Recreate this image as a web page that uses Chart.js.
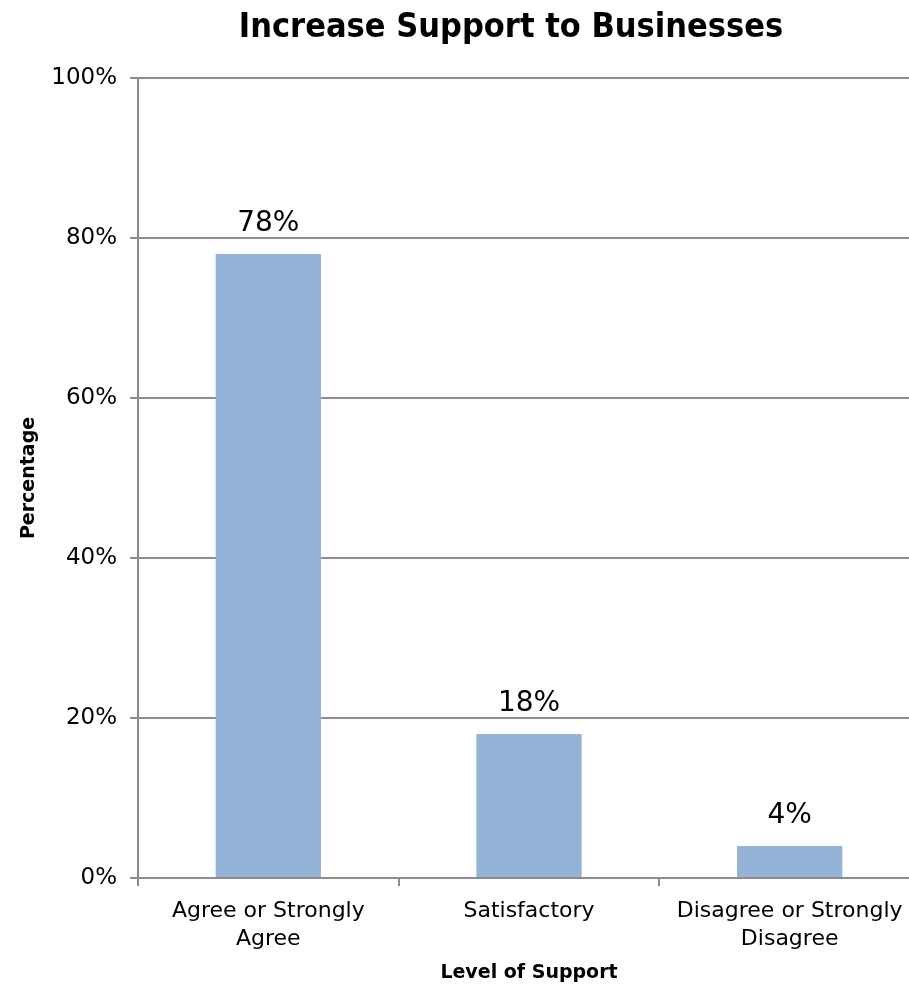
<!DOCTYPE html>
<html>
<head>
<meta charset="utf-8">
<script src="https://cdn.jsdelivr.net/npm/chart.js@4/dist/chart.umd.min.js"></script>
<style>
  html, body { margin: 0; padding: 0; background: #fff; overflow: hidden; }
  #wrap { position: relative; width: 920px; height: 987px; }
</style>
</head>
<body>
<div id="wrap"><canvas id="c"></canvas></div>
<script>
// Survey responses: level of support for increasing support to businesses
const categories = [["Agree or Strongly", "Agree"], "Satisfactory", ["Disagree or Strongly", "Disagree"]];
const percentages = [78, 18, 4];
const yTicks = [0, 20, 40, 60, 80, 100];

const titleText = "Increase Support to Businesses";
const xTitle = "Level of Support";
const yTitle = "Percentage";

const gridColor = "#8c8c8c";
const barColor = "#95b3d7";
const bodyFont = "'DejaVu Sans', sans-serif";

// Chart heading drawn above the plot
const headingPlugin = {
  id: "heading",
  afterDraw(chart) {
    const ctx = chart.ctx;
    ctx.save();
    ctx.fillStyle = "#000";
    ctx.font = "bold 34px 'DejaVu Sans Condensed', 'DejaVu Sans', sans-serif";
    ctx.textAlign = "center";
    ctx.textBaseline = "middle";
    ctx.fillText(titleText, 511, 28);
    ctx.restore();
  }
};

// Value labels above each bar
const valueLabels = {
  id: "valueLabels",
  afterDatasetsDraw(chart) {
    const ctx = chart.ctx;
    const meta = chart.getDatasetMeta(0);
    ctx.save();
    ctx.fillStyle = "#000";
    ctx.font = "28px " + bodyFont;
    ctx.textAlign = "center";
    ctx.textBaseline = "middle";
    meta.data.forEach((bar, i) => {
      ctx.fillText(percentages[i] + "%", bar.x, bar.y - 30);
    });
    ctx.restore();
  }
};

new Chart(document.getElementById("c"), {
  type: "bar",
  data: {
    labels: categories,
    datasets: [{
      data: percentages,
      backgroundColor: barColor,
      borderWidth: 0,
      barPercentage: 0.404,
      categoryPercentage: 1
    }]
  },
  options: {
    responsive: true,
    maintainAspectRatio: false,
    animation: false,
    layout: { padding: { top: 78, left: 0, right: 0, bottom: 0 } },
    plugins: {
      legend: { display: false },
      tooltip: { enabled: false },
      title: { display: false }
    },
    scales: {
      x: {
        offset: true,
        grid: {
          display: true,
          offset: true,
          drawOnChartArea: false,
          drawTicks: true,
          tickLength: 8,
          color: gridColor,
          lineWidth: 2
        },
        border: { display: true, color: gridColor, width: 2 },
        ticks: {
          color: "#000",
          font: { family: bodyFont, size: 22, lineHeight: 1.27 },
          padding: 11,
          maxRotation: 0,
          autoSkip: false
        },
        title: {
          display: true,
          text: xTitle,
          color: "#000",
          font: { family: bodyFont, size: 19, weight: "bold" },
          padding: { top: 4, bottom: 3 }
        },
        afterFit(scale) { scale.height = 109; }
      },
      y: {
        min: 0,
        max: 100,
        afterBuildTicks(scale) { scale.ticks = yTicks.map(v => ({ value: v })); },
        grid: {
          color: gridColor,
          lineWidth: 2,
          drawTicks: true,
          tickLength: 8
        },
        border: { display: true, color: gridColor, width: 2 },
        ticks: {
          color: "#000",
          font: { family: bodyFont, size: 23 },
          padding: 13,
          callback: v => v + "%"
        },
        title: {
          display: true,
          text: yTitle,
          color: "#000",
          font: { family: bodyFont, size: 19, weight: "bold" },
          padding: { top: 18, bottom: 0 }
        },
        afterFit(scale) { scale.width = 138; }
      }
    }
  },
  plugins: [headingPlugin, valueLabels]
});
</script>
</body>
</html>
